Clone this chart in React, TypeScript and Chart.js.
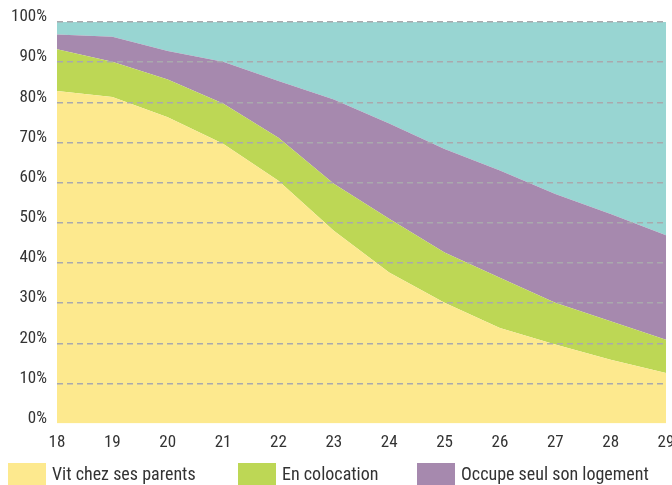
import React, { useEffect, useRef } from "react";
import { Chart, registerables } from "chart.js";

Chart.register(...registerables);

const ages = ["18", "19", "20", "21", "22", "23", "24", "25", "26", "27", "28", "29"];
const chezParents = [82.8, 81.3, 76.3, 69.7, 60.5, 48.0, 37.6, 30.1, 23.8, 19.7, 15.9, 12.6];
const colocation = [10.4, 8.8, 9.4, 10.0, 10.7, 11.7, 13.4, 12.5, 12.5, 10.4, 9.6, 8.3];
const seulLogement = [3.7, 6.2, 7.1, 10.4, 14.1, 21.0, 23.7, 25.8, 26.7, 27.1, 26.7, 26.0];
const autre = [3.1, 3.7, 7.2, 9.9, 14.7, 19.3, 25.3, 31.6, 37.0, 42.8, 47.8, 53.1];
const yTicks = [0, 10, 20, 30, 40, 50, 60, 70, 80, 90, 100];

const seriesNames = ["Vit chez ses parents", "En colocation", "Occupe seul son logement", "Autre situation"];
const seriesColors = ["#FDE98E", "#BDD755", "#A689AE", "#98D5D2"];
const legendLefts = [8, 238, 417];

const FONT = "'Roboto Condensed', 'Roboto', sans-serif";

export default function App() {
  const ref = useRef<HTMLCanvasElement | null>(null);

  useEffect(() => {
    if (!ref.current) return;
    const values = [chezParents, colocation, seulLogement, autre];
    const chart = new Chart(ref.current, {
      type: "line",
      data: {
        labels: ages,
        datasets: values.map((v, i) => ({
          label: seriesNames[i],
          data: v,
          backgroundColor: seriesColors[i],
          borderColor: "rgba(0,0,0,0)",
          borderWidth: 0,
          pointRadius: 0,
          tension: 0,
          fill: i === 0 ? "origin" : "-1",
        })),
      },
      options: {
        animation: false,
        responsive: false,
        maintainAspectRatio: false,
        layout: { padding: { left: 0, right: 6, top: 22, bottom: 23 } },
        plugins: { legend: { display: false }, tooltip: { enabled: false } },
        scales: {
          x: {
            afterFit: (scale: any) => {
              scale.paddingRight = 0;
              scale.paddingLeft = 0;
            },
            grid: { display: false, drawTicks: false },
            border: { display: false },
            ticks: {
              color: "#333",
              font: { family: FONT, size: 17 },
              padding: 9,
              maxRotation: 0,
              autoSkip: false,
            },
          },
          y: {
            stacked: true,
            min: 0,
            max: 100,
            afterFit: (scale: any) => {
              scale.width = 57;
            },
            afterBuildTicks: (scale: any) => {
              scale.ticks = yTicks.map((v) => ({ value: v }));
            },
            grid: {
              z: 1,
              drawTicks: false,
              lineWidth: 1.5,
              color: (ctx: any) => (ctx.tick && ctx.tick.value === 0 ? "rgba(0,0,0,0)" : "#a9a9ad"),
            },
            border: { display: false, dash: [6, 4] },
            ticks: {
              color: "#333",
              font: { family: FONT, size: 17 },
              padding: 10,
              labelOffset: -5,
              callback: (v: any) => v + "%",
            },
          },
        },
      },
    });
    return () => chart.destroy();
  }, []);

  return (
    <div style={{ position: "fixed", left: 0, top: 0, width: 672, height: 485, overflow: "hidden", background: "#fff" }}>
      <canvas ref={ref} width={672} height={485} style={{ display: "block", width: 672, height: 485 }} />
      {legendLefts.map((left, i) => (
        <div
          key={seriesNames[i]}
          style={{
            position: "absolute",
            left,
            top: 463,
            height: 22,
            display: "flex",
            alignItems: "center",
            whiteSpace: "nowrap",
          }}
        >
          <span style={{ display: "inline-block", width: 38, height: 22, background: seriesColors[i] }} />
          <span
            style={{
              marginLeft: 6,
              fontFamily: FONT,
              fontSize: 18,
              color: "#333",
              lineHeight: "22px",
            }}
          >
            {seriesNames[i]}
          </span>
        </div>
      ))}
    </div>
  );
}
